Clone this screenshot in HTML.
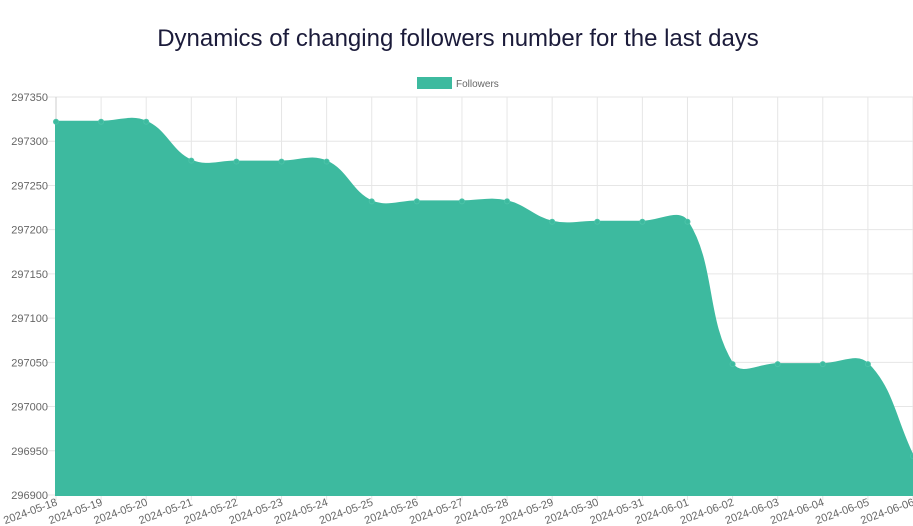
<!DOCTYPE html>
<html><head><meta charset="utf-8">
<style>
body{margin:0;background:#fff;font-family:"Liberation Sans",sans-serif;}
svg{display:block}
</style></head>
<body>
<svg id="chart" width="913" height="526" xmlns="http://www.w3.org/2000/svg" font-family="Liberation Sans, sans-serif">
<text x="458" y="46" text-anchor="middle" font-size="24" fill="#1b1b3a">Dynamics of changing followers number for the last days</text>
<rect x="417" y="77" width="35" height="12" fill="#3dba9f"/>
<text x="456" y="87" font-size="10" fill="#666">Followers</text>
<g id="grid"></g>
<g id="series"></g>
<g id="axes"></g>
</svg>
<script>
const categories=["2024-05-18","2024-05-19","2024-05-20","2024-05-21","2024-05-22","2024-05-23","2024-05-24","2024-05-25","2024-05-26","2024-05-27","2024-05-28","2024-05-29","2024-05-30","2024-05-31","2024-06-01","2024-06-02","2024-06-03","2024-06-04","2024-06-05","2024-06-06"];
const followers=[297322,297322,297322,297278,297277,297277,297277,297232,297232,297232,297232,297209,297209,297209,297209,297048,297048,297048,297048,296944];
const yTicks=[296900,296950,297000,297050,297100,297150,297200,297250,297300,297350];
const L=56,R=913,T=97,B=495,yMin=296900,yMax=297350;
const NS="http://www.w3.org/2000/svg";
const xs=i=>L+(R-L)*i/(categories.length-1);
const ys=v=>B-(v-yMin)/(yMax-yMin)*(B-T);
function mk(tag,attrs,parent){const e=document.createElementNS(NS,tag);for(const k in attrs)e.setAttribute(k,attrs[k]);parent.appendChild(e);return e;}
const grid=document.getElementById('grid'),axes=document.getElementById('axes'),series=document.getElementById('series');
yTicks.forEach(v=>{const y=ys(v);
const g=mk('line',{x1:46,x2:R,y1:y,y2:y,stroke:'#e6e6e6','stroke-width':1},grid);


const t=mk('text',{x:48,y:y+4,'text-anchor':'end','font-size':11,fill:'#666'},axes);
t.textContent=v;


});
categories.forEach((c,i)=>{const x=xs(i);
const g=mk('line',{x1:x,x2:x,y1:T,y2:B+5,stroke:'#e6e6e6','stroke-width':1},grid);


const t=mk('text',{x:0,y:0,'text-anchor':'end','font-size':11,fill:'#666',transform:`translate(${x+2},${B+10}) rotate(-20)`},axes);
t.textContent=c;


});
const ax=mk('line',{x1:L,x2:L,y1:T,y2:B,stroke:'#ccc'},grid);


// spline
const pts=followers.map((v,i)=>({x:xs(i),y:ys(v)}));
const tension=0.4;
const cps=pts.map((p,i)=>{const prev=pts[i-1]||p,next=pts[i+1]||p;
const d01=Math.hypot(p.x-prev.x,p.y-prev.y),d12=Math.hypot(next.x-p.x,next.y-p.y);
const tot=d01+d12||1;const fa=tension*d01/tot,fb=tension*d12/tot;
return{px:p.x-fa*(next.x-prev.x),py:p.y-fa*(next.y-prev.y),nx:p.x+fb*(next.x-prev.x),ny:p.y+fb*(next.y-prev.y)};});
let d=`M${pts[0].x},${pts[0].y}`;
for(let i=1;i<pts.length;i++){d+=` C${cps[i-1].nx},${cps[i-1].ny} ${cps[i].px},${cps[i].py} ${pts[i].x},${pts[i].y}`;}
const area=mk('path',{d:d+` L${pts[pts.length-1].x},${B} L${pts[0].x},${B} Z`,fill:'#3dba9f',stroke:'#3dba9f','stroke-width':2},series);


pts.forEach(p=>{const c=mk('circle',{cx:p.x,cy:p.y,r:2.5,fill:'#3dba9f',stroke:'#4cc3a8'},series);


});
</script>
</body></html>
